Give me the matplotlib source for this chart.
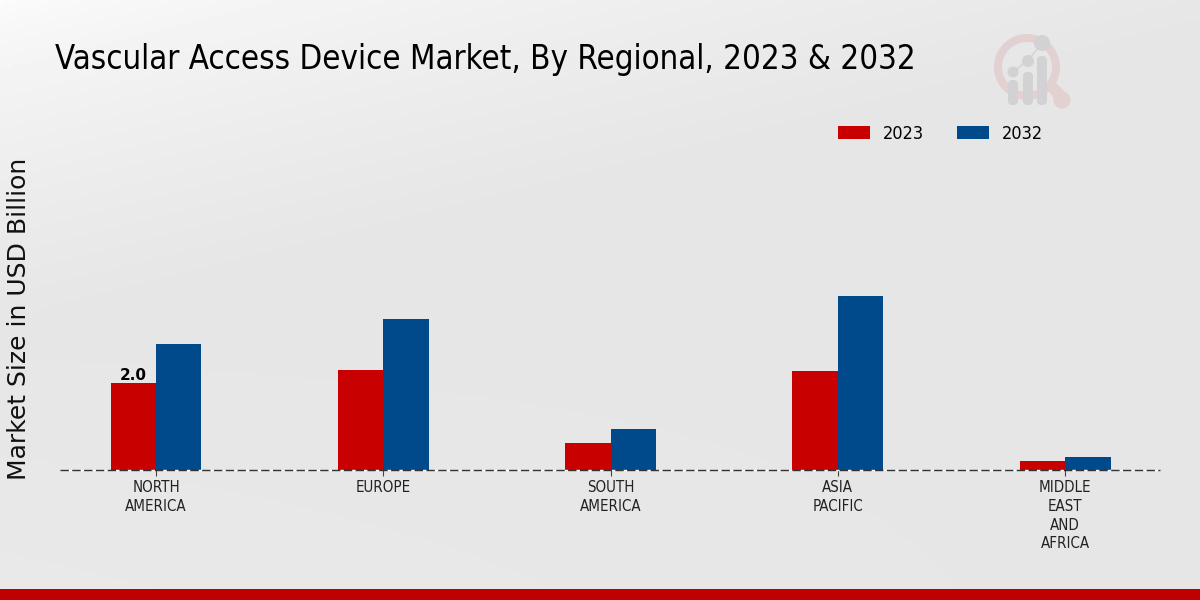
import numpy as np
import matplotlib
matplotlib.use('Agg')
import matplotlib.pyplot as plt
from matplotlib.patches import Circle, FancyBboxPatch, Wedge, Polygon

regions = ['NORTH\nAMERICA', 'EUROPE', 'SOUTH\nAMERICA', 'ASIA\nPACIFIC', 'MIDDLE\nEAST\nAND\nAFRICA']
values_2023 = [2.0, 2.3, 0.62, 2.28, 0.2]
values_2032 = [2.9, 3.47, 0.94, 4.0, 0.3]

RED = '#c80000'
BLUE = '#004a8b'

fig = plt.figure(figsize=(12, 6), dpi=100)

# background: light corner top left, grey elsewhere
bg = fig.add_axes([0, 0, 1, 1], zorder=0)
yy, xx = np.mgrid[0:1:150j, 0:1:300j]
dist = np.clip((xx * 0.5 + yy) / 0.55, 0, 1)
shade = 0.985 - 0.085 * dist ** 0.7
shade = shade + 0.012 * np.clip((yy - 0.5) * 2, 0, 1) * (1 - xx)
bg.imshow(shade, cmap='gray', vmin=0, vmax=1, extent=[0, 1200, 600, 0], aspect='auto')
bg.axis('off')

# footer strip
bg.fill_between([0, 1200], 589, 600, color='#c00000', lw=0)

# watermark logo
PINK = '#e3d0d1'
GREY = '#d2d2d5'
bg.add_patch(Wedge((1027, 67), 33, 0, 360, width=8, fc=PINK, ec='none'))
bg.add_patch(Polygon([[1049, 91], [1056, 83], [1070, 97], [1060, 108]], fc=PINK, ec='none'))
bg.add_patch(Circle((1062, 100), 8.5, fc=PINK, ec='none'))
bg.plot([1013, 1027, 1043], [72, 61, 43], color=GREY, lw=1)
for cx, cy, r, top in [(1013, 72, 5.5, 80), (1028, 61, 6, 72), (1042, 43, 8, 56)]:
    bg.add_patch(Circle((cx, cy), r, fc=GREY, ec='none'))
    bg.add_patch(FancyBboxPatch((cx - 5, top), 10, 105 - top, boxstyle='round,pad=0,rounding_size=4.5',
                                fc=GREY, ec='none'))
bg.set_xlim(0, 1200)
bg.set_ylim(600, 0)

ax = fig.add_axes([60 / 1200, 130 / 600, 1100 / 1200, 370 / 600], zorder=1)
ax.patch.set_alpha(0)

x = np.arange(len(regions))
width = 0.2
ax.bar(x - width / 2, values_2023, width, color=RED, linewidth=0, label='2023')
ax.bar(x + width / 2, values_2032, width, color=BLUE, linewidth=0, label='2032')

ax.text(x[0] - width / 2, values_2023[0] + 0.01, '2.0', ha='center', va='bottom',
        fontsize=11, fontweight='bold', color='black')

ax.set_xlim(-0.4225, 4.4175)
ax.set_ylim(0, 370 / 43.5)
ax.set_xticks(x)
ax.set_xticklabels(regions, fontsize=10.8, stretch='condensed', color='#222222', linespacing=1.3)
ax.tick_params(axis='x', length=4, width=0.8, color='#444444', pad=3.5)
ax.set_yticks([])
for side in ['top', 'left', 'right', 'bottom']:
    ax.spines[side].set_visible(False)
ax.axhline(0, color='#333333', lw=1.0, ls=(0, (6, 2.5)), gapcolor='white', clip_on=False, zorder=3)

fig.text(55 / 1200, 1 - 59 / 600, 'Vascular Access Device Market, By Regional, 2023 & 2032',
         fontsize=23.7, stretch='condensed', color='black', ha='left', va='center')
fig.text(19 / 1200, 1 - 319 / 600, 'Market Size in USD Billion', fontsize=18, rotation=90,
         color='#111111', ha='center', va='center')

ax.legend(loc='upper left', bbox_to_anchor=(778 / 1100, 0.933), ncol=2, frameon=False,
          prop={'size': 13, 'stretch': 'condensed'}, handlelength=1.77, handleheight=0.72,
          columnspacing=1.83, handletextpad=0.72, borderaxespad=0, borderpad=0)

fig.savefig('out.png', dpi=100)
